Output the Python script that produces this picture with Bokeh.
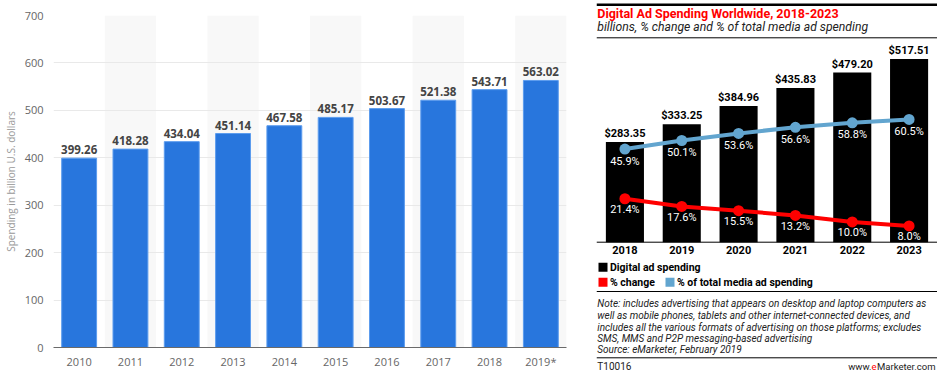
from bokeh.plotting import figure
from bokeh.models import Range1d, FactorRange, FixedTicker, Label, Span, BoxAnnotation
from bokeh.layouts import row
from bokeh.embed import file_html
from bokeh.resources import INLINE
from bokeh.core.properties import value

# ---------------- data: left chart ----------------
years_l = ["2010", "2011", "2012", "2013", "2014", "2015", "2016", "2017", "2018", "2019*"]
spend_l = [399.26, 418.28, 434.04, 451.14, 467.58, 485.17, 503.67, 521.38, 543.71, 563.02]
y_ticks_l = [0, 100, 200, 300, 400, 500, 600, 700]
y_title_l = "Spending in billion U.S. dollars"

# ---------------- data: right chart ----------------
years_r = ["2018", "2019", "2020", "2021", "2022", "2023"]
spend_r = [283.35, 333.25, 384.96, 435.83, 479.20, 517.51]
pct_change = [21.4, 17.6, 15.5, 13.2, 10.0, 8.0]
pct_total = [45.9, 50.1, 53.6, 56.6, 58.8, 60.5]
title_r = "Digital Ad Spending Worldwide, 2018-2023"
subtitle_r = "billions, % change and % of total media ad spending"
legend_r = ["Digital ad spending", "% change", "% of total media ad spending"]
notes_r = [
    "Note: includes advertising that appears on desktop and laptop computers as",
    "well as mobile phones, tablets and other internet-connected devices, and",
    "includes all the various formats of advertising on those platforms; excludes",
    "SMS, MMS and P2P messaging-based advertising",
    "Source: eMarketer, February 2019",
]
code_r = "T10016"

H = 371

# ================= left figure =================
LFONT = "Open Sans"
p1 = figure(width=570, height=H, x_range=FactorRange(*years_l), y_range=Range1d(0, 700),
            output_backend="svg", toolbar_location=None,
            min_border_left=53, min_border_right=4, min_border_top=15,
            min_border_bottom=H - 349)
p1.frame_align = False
p1.outline_line_color = None
p1.xgrid.grid_line_color = None
p1.ygrid.ticker = FixedTicker(ticks=y_ticks_l)
p1.ygrid.grid_line_color = "#e9e9e9"

# alternating background bands
p1.vbar(x=years_l[1::2], top=700, bottom=0, width=1.0, fill_color="#f8f8f8",
        line_color=None, level="image")

p1.vbar(x=years_l, top=spend_l, width=0.68, fill_color="#2876dd",
        line_color="#5c9cee", line_width=1)
p1.text(x=years_l, y=spend_l, text=[f"{v:.2f}" for v in spend_l],
        text_align="center", text_baseline="bottom", y_offset=-4,
        text_font=value(LFONT), text_font_size="11.5px", text_font_style="bold",
        text_color="#444444")

p1.yaxis.ticker = FixedTicker(ticks=y_ticks_l)
p1.yaxis.axis_line_color = None
p1.yaxis.major_tick_line_color = None
p1.yaxis.minor_tick_line_color = None
p1.yaxis.major_tick_out = 0
p1.yaxis.major_tick_in = 0
p1.yaxis.minor_tick_out = 0
p1.yaxis.major_label_standoff = 10
p1.yaxis.major_label_text_font = LFONT
p1.yaxis.major_label_text_font_size = "11px"
p1.yaxis.major_label_text_color = "#666666"
p1.yaxis.axis_label = y_title_l
p1.yaxis.axis_label_standoff = 4
p1.yaxis.axis_label_text_font = LFONT
p1.yaxis.axis_label_text_font_size = "10px"
p1.yaxis.axis_label_text_font_style = "normal"
p1.yaxis.axis_label_text_color = "#999999"

p1.xaxis.axis_line_color = "#6a6a6a"
p1.xaxis.axis_line_width = 1.2
p1.xaxis.major_tick_line_color = None
p1.xaxis.minor_tick_line_color = None
p1.xaxis.major_tick_out = 0
p1.xaxis.major_tick_in = 0
p1.xaxis.minor_tick_out = 0
p1.xaxis.major_label_standoff = 6
p1.xaxis.major_label_text_font = LFONT
p1.xaxis.major_label_text_font_size = "11px"
p1.xaxis.major_label_text_color = "#666666"

# ================= right figure =================
RFONT = "Roboto"
RW = 367
BORDER_L = 26
BASE = 241.7      # baseline, px from top
BAR_PX = 0.354    # px per billion
PCT_PX = 2.03     # px per percent
CAT_PX = (RW - BORDER_L) / len(years_r)

p2 = figure(width=RW, height=H, x_range=FactorRange(*years_r),
            y_range=Range1d(-(H - BASE) / BAR_PX, BASE / BAR_PX),
            output_backend="svg", toolbar_location=None,
            y_axis_location=None, x_axis_location=None,
            min_border_left=BORDER_L, min_border_right=0, min_border_top=0,
            min_border_bottom=0)
p2.frame_align = False
p2.extra_y_ranges = {"pct": Range1d(-(H - BASE) / PCT_PX, BASE / PCT_PX)}
p2.outline_line_color = None
p2.grid.visible = False


def fx(page_x):
    return (page_x - 570 - BORDER_L) / CAT_PX


def fy(page_y):
    return (BASE - page_y) / BAR_PX


p2.vbar(x=years_r, top=spend_r, bottom=0, width=0.67, fill_color="black", line_color=None)
p2.text(x=years_r, y=spend_r, text=[f"${v:.2f}" for v in spend_r],
        text_align="center", text_baseline="bottom", y_offset=-2,
        text_font=value(RFONT), text_font_size="11px", text_font_style="bold",
        text_color="black")

BLUE = "#62a5cf"
RED = "#ff0000"
p2.line(x=years_r, y=pct_total, y_range_name="pct", line_color=BLUE, line_width=4)
p2.scatter(x=years_r, y=pct_total, y_range_name="pct", size=11, fill_color=BLUE, line_color=None)
p2.line(x=years_r, y=pct_change, y_range_name="pct", line_color=RED, line_width=4)
p2.scatter(x=years_r, y=pct_change, y_range_name="pct", size=11, fill_color=RED, line_color=None)
p2.text(x=years_r, y=pct_total, y_range_name="pct", text=[f"{v:.1f}%" for v in pct_total],
        text_align="center", text_baseline="middle", y_offset=12,
        text_font=value(RFONT), text_font_size="11px", text_font_style="normal",
        text_color="white")
p2.text(x=years_r, y=pct_change, y_range_name="pct", text=[f"{v:.1f}%" for v in pct_change],
        text_align="center", text_baseline="middle", y_offset=11,
        text_font=value(RFONT), text_font_size="11px", text_font_style="normal",
        text_color="white")

# category labels under the baseline
p2.text(x=years_r, y=0, text=years_r, text_align="center", text_baseline="middle",
        y_offset=7.5, text_font=value(RFONT), text_font_size="11px",
        text_font_style="bold", text_color="black")

# rules
p2.add_layout(Span(location=0, dimension="width", line_color="black", line_width=1))
p2.add_layout(Span(location=fy(4.3), dimension="width", line_color="black", line_width=2.5))
p2.add_layout(Span(location=fy(37.3), dimension="width", line_color="black", line_width=1))
p2.add_layout(Span(location=fy(291), dimension="width", line_color="black", line_width=1))
p2.add_layout(Span(location=fy(357.3), dimension="width", line_color="black", line_width=1))

TX = 596.8
# title / subtitle
p2.add_layout(Label(x=fx(TX), y=fy(13), text=title_r, text_align="left", text_baseline="middle",
                    text_font=RFONT, text_font_size="12.5px", text_font_style="bold",
                    text_color=RED))
p2.add_layout(Label(x=fx(TX), y=fy(26), text=subtitle_r, text_align="left", text_baseline="middle",
                    text_font=RFONT, text_font_size="12.2px", text_font_style="italic",
                    text_color="#222222"))

# legend
sw = [(598, 266.7, "black"), (598, 281.7, RED), (665, 281.7, BLUE)]
for (sx, sy, c) in sw:
    p2.add_layout(BoxAnnotation(left=fx(sx), right=fx(sx + 9), top=fy(sy - 4.5),
                                bottom=fy(sy + 4.5), fill_color=c, fill_alpha=1.0,
                                line_color=None))
leg_pos = [(609.5, 266.7), (609.5, 281.7), (676.5, 281.7)]
for (lx, ly), t in zip(leg_pos, legend_r):
    p2.add_layout(Label(x=fx(lx), y=fy(ly), text=t, text_align="left", text_baseline="middle",
                        text_font=RFONT, text_font_size="10.5px", text_font_style="bold",
                        text_color="black"))

# notes
note_y = [303.3, 315.0, 326.7, 338.3, 349.3]
for ny, t in zip(note_y, notes_r):
    p2.add_layout(Label(x=fx(TX), y=fy(ny), text=t, text_align="left", text_baseline="middle",
                        text_font=RFONT, text_font_size="10px", text_font_style="italic",
                        text_color="#222222"))

p2.add_layout(Label(x=fx(TX), y=fy(366), text=code_r, text_align="left", text_baseline="middle",
                    text_font=RFONT, text_font_size="10px", text_color="#222222"))
p2.add_layout(Label(x=fx(935), y=fy(366), text="Marketer.com", text_align="right",
                    text_baseline="middle", text_font=RFONT, text_font_size="9.5px",
                    text_color="#222222"))
p2.add_layout(Label(x=fx(876), y=fy(366), text="e", text_align="right", text_baseline="middle",
                    text_font=RFONT, text_font_size="9.5px", text_color=RED))
p2.add_layout(Label(x=fx(871), y=fy(366), text="www.", text_align="right", text_baseline="middle",
                    text_font=RFONT, text_font_size="9.5px", text_color="#222222"))

layout = row(p1, p2)
open("out.html", "w").write(file_html(layout, INLINE))
